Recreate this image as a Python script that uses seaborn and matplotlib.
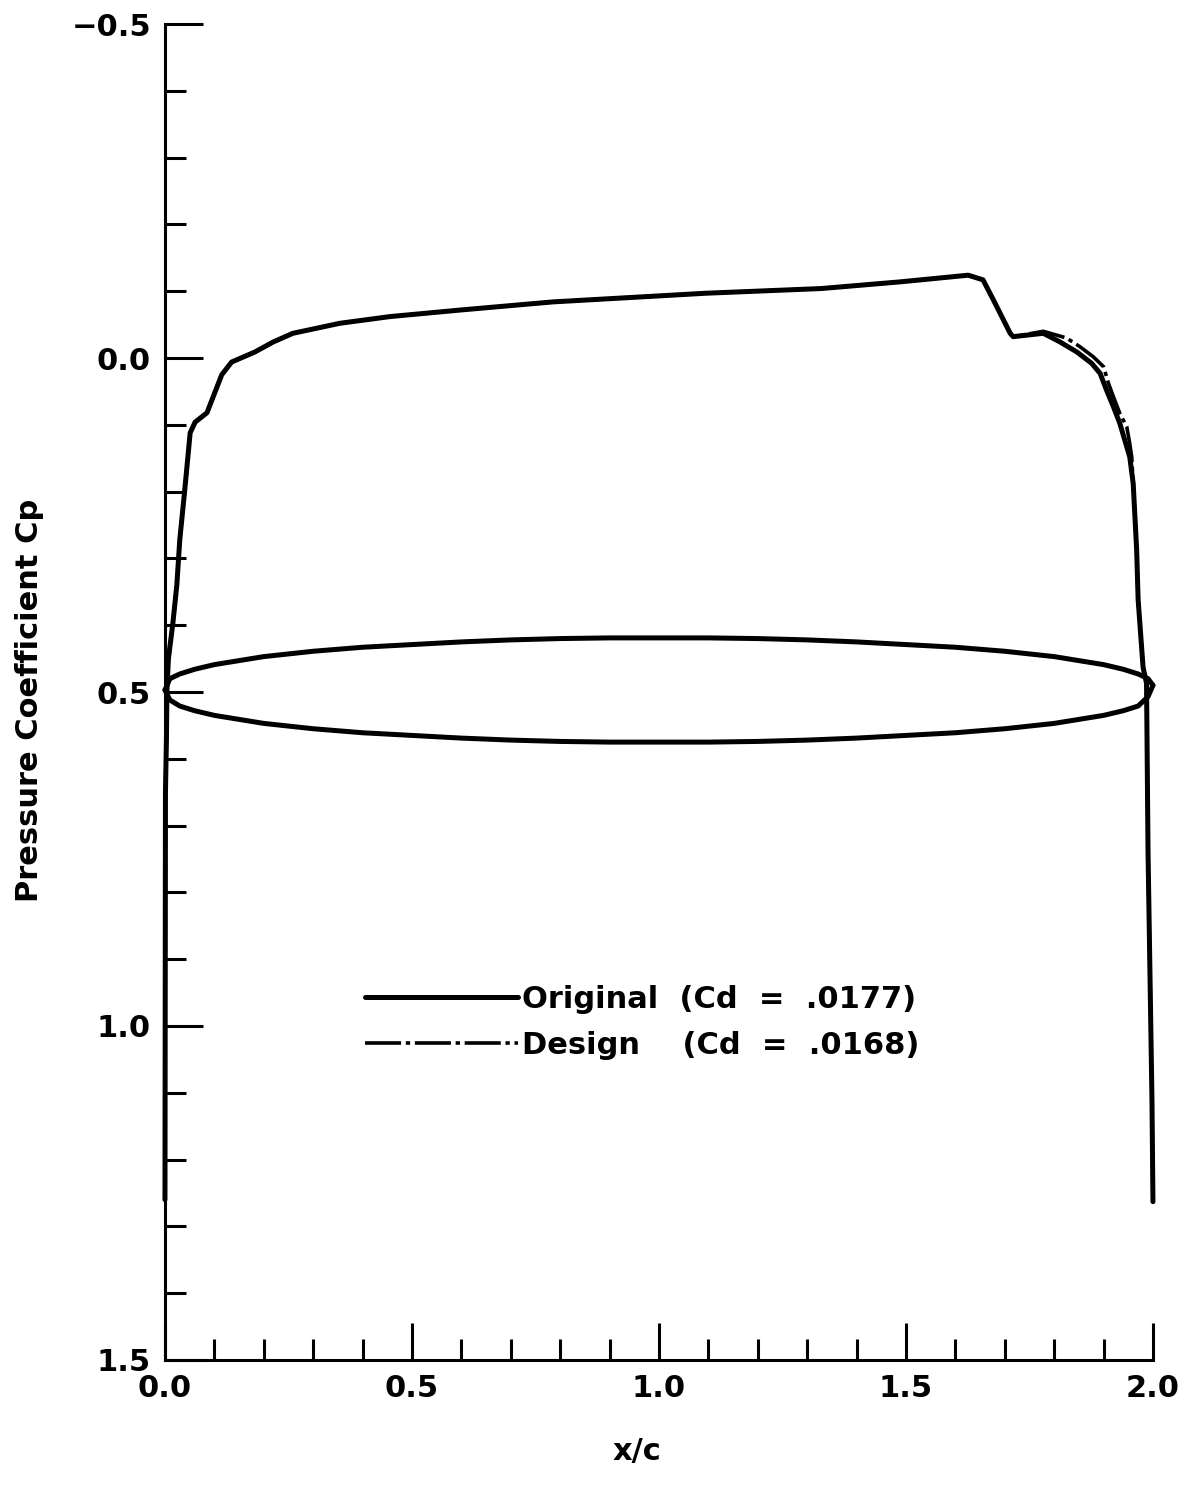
import numpy as np
import pandas as pd
import matplotlib
matplotlib.use("Agg")
import matplotlib.pyplot as plt
from matplotlib.ticker import MultipleLocator, FixedLocator, FixedFormatter
import seaborn as sns

# ---------------- data ----------------
orig_x = [0.000, 0.001, 0.003, 0.004, 0.007, 0.016, 0.024, 0.030, 0.040, 0.051,
          0.061, 0.085, 0.115, 0.135, 0.182, 0.219, 0.259, 0.354, 0.455, 0.600,
          0.785, 1.095, 1.328, 1.488, 1.626, 1.656, 1.677, 1.711, 1.717, 1.778,
          1.812, 1.846, 1.876, 1.893, 1.906, 1.920, 1.933, 1.943, 1.953, 1.960,
          1.967, 1.970, 1.980, 1.987, 1.990, 1.998, 2.000]
orig_cp = [1.260, 0.650, 0.570, 0.497, 0.450, 0.397, 0.340, 0.272, 0.198, 0.112,
           0.096, 0.082, 0.025, 0.006, -0.009, -0.024, -0.037, -0.052, -0.062, -0.072,
           -0.084, -0.097, -0.104, -0.114, -0.124, -0.117, -0.087, -0.037, -0.032, -0.037,
           -0.024, -0.009, 0.008, 0.023, 0.048, 0.073, 0.098, 0.123, 0.148, 0.188,
           0.287, 0.362, 0.463, 0.487, 0.737, 1.111, 1.263]

design_x = [0.000, 0.001, 0.003, 0.004, 0.007, 0.016, 0.024, 0.030, 0.040, 0.051,
            0.061, 0.085, 0.115, 0.135, 0.182, 0.219, 0.259, 0.354, 0.455, 0.600,
            0.785, 1.095, 1.328, 1.488, 1.626, 1.656, 1.677, 1.711, 1.717, 1.778,
            1.825, 1.852, 1.879, 1.900, 1.910, 1.920, 1.933, 1.947, 1.953, 1.957,
            1.960, 1.967, 1.970, 1.980, 1.987, 1.990, 1.998, 2.000]
design_cp = [1.260, 0.650, 0.570, 0.497, 0.450, 0.397, 0.340, 0.272, 0.198, 0.112,
             0.096, 0.082, 0.025, 0.006, -0.009, -0.024, -0.037, -0.052, -0.062, -0.072,
             -0.084, -0.097, -0.104, -0.114, -0.124, -0.117, -0.087, -0.037, -0.032, -0.040,
             -0.030, -0.017, -0.002, 0.013, 0.038, 0.058, 0.083, 0.103, 0.128, 0.148,
             0.188, 0.287, 0.362, 0.463, 0.487, 0.737, 1.111, 1.263]

# airfoil contour drawn on the Cp scale (upper and lower branch)
shape_x = [0.00, 0.01, 0.03, 0.06, 0.10, 0.15, 0.20, 0.30, 0.40, 0.50, 0.60, 0.70,
           0.80, 0.90, 1.00, 1.10, 1.20, 1.30, 1.40, 1.50, 1.60, 1.70, 1.80, 1.85,
           1.90, 1.94, 1.97, 1.99, 2.00]
shape_upper = [0.497, 0.480, 0.473, 0.466, 0.459, 0.453, 0.447, 0.439, 0.433, 0.429,
               0.425, 0.422, 0.420, 0.419, 0.419, 0.419, 0.420, 0.422, 0.425, 0.429,
               0.433, 0.439, 0.447, 0.453, 0.459, 0.466, 0.473, 0.480, 0.490]
shape_lower = [0.497, 0.512, 0.521, 0.528, 0.535, 0.541, 0.547, 0.555, 0.561, 0.565,
               0.569, 0.572, 0.574, 0.575, 0.575, 0.575, 0.574, 0.572, 0.569, 0.565,
               0.561, 0.555, 0.547, 0.541, 0.535, 0.528, 0.521, 0.507, 0.490]

legend_labels = ["Original  (Cd  =  .0177)", "Design    (Cd  =  .0168)"]
x_ticks = [0.0, 0.5, 1.0, 1.5, 2.0]
x_ticklabels = ["0.0", "0.5", "1.0", "1.5", "2.0"]
y_ticks = [-0.5, 0.0, 0.5, 1.0, 1.5]
y_ticklabels = ["\u22120.5", "0.0", "0.5", "1.0", "1.5"]

# ---------------- styling ----------------
sns.set_theme(style="ticks")
plt.rcParams["font.family"] = ["DejaVu Sans"]
plt.rcParams["font.weight"] = "bold"
plt.rcParams["text.color"] = "black"
plt.rcParams["axes.labelcolor"] = "black"
plt.rcParams["xtick.color"] = "black"
plt.rcParams["ytick.color"] = "black"

fig = plt.figure(figsize=(11.98, 14.93), dpi=100)
ax = fig.add_axes([0.1377, 0.0891, 0.8247, 0.8948])

df_o = pd.DataFrame({"x": orig_x, "cp": orig_cp})
df_d = pd.DataFrame({"x": design_x, "cp": design_cp})
df_u = pd.DataFrame({"x": shape_x, "cp": shape_upper})
df_l = pd.DataFrame({"x": shape_x, "cp": shape_lower})

sns.lineplot(data=df_o, x="x", y="cp", sort=False, estimator=None, color="black",
             lw=3.6, ax=ax, label=legend_labels[0], clip_on=False)
sns.lineplot(data=df_d, x="x", y="cp", sort=False, estimator=None, color="black",
             lw=2.6, ls=(0, (10, 1.3, 1.2, 1.3)), ax=ax, label=legend_labels[1],
             clip_on=False)
sns.lineplot(data=df_u, x="x", y="cp", sort=False, estimator=None, color="black",
             lw=3.6, ax=ax, clip_on=False)
sns.lineplot(data=df_l, x="x", y="cp", sort=False, estimator=None, color="black",
             lw=3.6, ax=ax, clip_on=False)

ax.set_xlim(0, 2)
ax.set_ylim(1.5, -0.5)

ax.xaxis.set_major_locator(FixedLocator(x_ticks))
ax.xaxis.set_major_formatter(FixedFormatter(x_ticklabels))
ax.yaxis.set_major_locator(FixedLocator(y_ticks))
ax.yaxis.set_major_formatter(FixedFormatter(y_ticklabels))
ax.xaxis.set_minor_locator(MultipleLocator(0.1))
ax.yaxis.set_minor_locator(MultipleLocator(0.1))

ax.tick_params(which="major", direction="in", length=27, width=2.2,
               labelsize=22, color="black", labelcolor="black")
ax.tick_params(axis="x", which="major", pad=10)
ax.tick_params(axis="y", which="major", pad=10)
ax.tick_params(which="minor", direction="in", length=15, width=2.2, color="black")

for s in ["top", "right"]:
    ax.spines[s].set_visible(False)
for s in ["left", "bottom"]:
    ax.spines[s].set_linewidth(2.2)
    ax.spines[s].set_color("black")

ax.set_xlabel("x/c", fontsize=22, fontweight="bold", color="black")
ax.set_ylabel("Pressure Coefficient Cp", fontsize=22, fontweight="bold", color="black")
ax.xaxis.set_label_coords(0.478, -0.058)
ax.yaxis.set_label_coords(-0.122, 0.494)

leg = ax.legend(loc="upper left", bbox_to_anchor=(0.19, 0.29), frameon=False,
                handlelength=5.0, handletextpad=0.15, fontsize=22, labelspacing=0.55,
                borderaxespad=0.0)
for t in leg.get_texts():
    t.set_fontweight("bold")
    t.set_color("black")

fig.savefig("out.png", dpi=100, facecolor="white")
